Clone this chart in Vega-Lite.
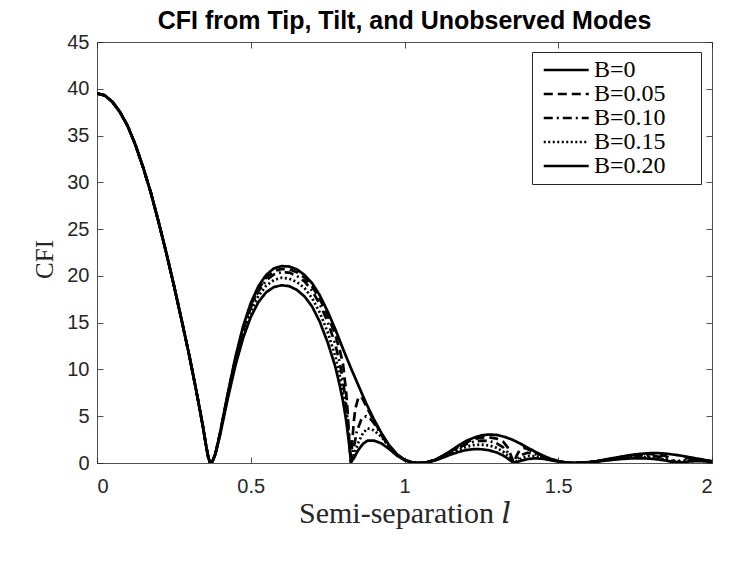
{
  "$schema": "https://vega.github.io/schema/vega-lite/v6.json",
  "width": 615,
  "height": 421,
  "autosize": {"type": "none"},
  "padding": {"left": 97, "top": 42, "right": 35, "bottom": 98},
  "background": "white",
  "title": {"text": "CFI from Tip, Tilt, and Unobserved Modes", "font": "Liberation Sans", "fontSize": 25, "fontWeight": "bold", "color": "#000000", "anchor": "middle", "offset": -2},
  "datasets": {
    "cfi": [
      {"l":0,"s":"B=0","c":39.5},{"l":0.025,"s":"B=0","c":39.3},{"l":0.05,"s":"B=0","c":38.6},{"l":0.075,"s":"B=0","c":37.5},{"l":0.1,"s":"B=0","c":36.0},{"l":0.125,"s":"B=0","c":34.0},{"l":0.15,"s":"B=0","c":31.6},{"l":0.175,"s":"B=0","c":28.9},{"l":0.2,"s":"B=0","c":25.8},{"l":0.225,"s":"B=0","c":22.5},{"l":0.25,"s":"B=0","c":19.0},{"l":0.275,"s":"B=0","c":15.3},{"l":0.3,"s":"B=0","c":11.5},{"l":0.32,"s":"B=0","c":8.2},{"l":0.335,"s":"B=0","c":5.6},{"l":0.345,"s":"B=0","c":3.8},{"l":0.355,"s":"B=0","c":1.8},{"l":0.362,"s":"B=0","c":0.6},{"l":0.368,"s":"B=0","c":0.0},
      {"l":0.375,"s":"B=0","c":0.15},{"l":0.385,"s":"B=0","c":1.0},{"l":0.4,"s":"B=0","c":3.2},{"l":0.425,"s":"B=0","c":7.4},{"l":0.45,"s":"B=0","c":11.3},{"l":0.475,"s":"B=0","c":14.6},{"l":0.5,"s":"B=0","c":17.1},{"l":0.525,"s":"B=0","c":18.9},{"l":0.55,"s":"B=0","c":20.1},{"l":0.575,"s":"B=0","c":20.8},{"l":0.6,"s":"B=0","c":21.05},{"l":0.625,"s":"B=0","c":21.0},{"l":0.65,"s":"B=0","c":20.7},{"l":0.675,"s":"B=0","c":20.1},{"l":0.7,"s":"B=0","c":19.2},{"l":0.725,"s":"B=0","c":17.9},{"l":0.75,"s":"B=0","c":16.2},{"l":0.775,"s":"B=0","c":14.3},{"l":0.8,"s":"B=0","c":12.2},{"l":0.825,"s":"B=0","c":10.2},{"l":0.85,"s":"B=0","c":8.3},{"l":0.875,"s":"B=0","c":6.4},{"l":0.9,"s":"B=0","c":4.7},{"l":0.925,"s":"B=0","c":3.2},{"l":0.95,"s":"B=0","c":1.9},{"l":0.975,"s":"B=0","c":0.95},{"l":1.0,"s":"B=0","c":0.35},{"l":1.025,"s":"B=0","c":0.07},{"l":1.045,"s":"B=0","c":0.0},
      {"l":1.075,"s":"B=0","c":0.1},{"l":1.1,"s":"B=0","c":0.35},{"l":1.125,"s":"B=0","c":0.8},{"l":1.15,"s":"B=0","c":1.3},{"l":1.175,"s":"B=0","c":1.85},{"l":1.2,"s":"B=0","c":2.35},{"l":1.225,"s":"B=0","c":2.7},{"l":1.25,"s":"B=0","c":2.95},{"l":1.275,"s":"B=0","c":3.05},{"l":1.3,"s":"B=0","c":3.0},{"l":1.325,"s":"B=0","c":2.8},{"l":1.35,"s":"B=0","c":2.5},{"l":1.375,"s":"B=0","c":2.1},{"l":1.4,"s":"B=0","c":1.65},{"l":1.425,"s":"B=0","c":1.2},{"l":1.45,"s":"B=0","c":0.8},{"l":1.475,"s":"B=0","c":0.45},{"l":1.5,"s":"B=0","c":0.2},{"l":1.525,"s":"B=0","c":0.05},{"l":1.55,"s":"B=0","c":0.0},
      {"l":1.575,"s":"B=0","c":0.03},{"l":1.6,"s":"B=0","c":0.1},{"l":1.625,"s":"B=0","c":0.2},{"l":1.65,"s":"B=0","c":0.35},{"l":1.675,"s":"B=0","c":0.5},{"l":1.7,"s":"B=0","c":0.65},{"l":1.725,"s":"B=0","c":0.8},{"l":1.75,"s":"B=0","c":0.92},{"l":1.775,"s":"B=0","c":1.0},{"l":1.8,"s":"B=0","c":1.05},{"l":1.825,"s":"B=0","c":1.05},{"l":1.85,"s":"B=0","c":1.0},{"l":1.875,"s":"B=0","c":0.9},{"l":1.9,"s":"B=0","c":0.78},{"l":1.925,"s":"B=0","c":0.63},{"l":1.95,"s":"B=0","c":0.48},{"l":1.975,"s":"B=0","c":0.33},{"l":2.0,"s":"B=0","c":0.2},

      {"l":0,"s":"B=0.05","c":39.5},{"l":0.025,"s":"B=0.05","c":39.3},{"l":0.05,"s":"B=0.05","c":38.6},{"l":0.075,"s":"B=0.05","c":37.5},{"l":0.1,"s":"B=0.05","c":36.0},{"l":0.125,"s":"B=0.05","c":34.0},{"l":0.15,"s":"B=0.05","c":31.6},{"l":0.175,"s":"B=0.05","c":28.9},{"l":0.2,"s":"B=0.05","c":25.8},{"l":0.225,"s":"B=0.05","c":22.5},{"l":0.25,"s":"B=0.05","c":19.0},{"l":0.275,"s":"B=0.05","c":15.3},{"l":0.3,"s":"B=0.05","c":11.5},{"l":0.32,"s":"B=0.05","c":8.2},{"l":0.335,"s":"B=0.05","c":5.6},{"l":0.345,"s":"B=0.05","c":3.8},{"l":0.355,"s":"B=0.05","c":1.8},{"l":0.362,"s":"B=0.05","c":0.6},{"l":0.368,"s":"B=0.05","c":0.0},
      {"l":0.375,"s":"B=0.05","c":0.15},{"l":0.385,"s":"B=0.05","c":0.99},{"l":0.4,"s":"B=0.05","c":3.15},{"l":0.425,"s":"B=0.05","c":7.3},{"l":0.45,"s":"B=0.05","c":11.15},{"l":0.475,"s":"B=0.05","c":14.4},{"l":0.5,"s":"B=0.05","c":16.85},{"l":0.525,"s":"B=0.05","c":18.6},{"l":0.55,"s":"B=0.05","c":19.8},{"l":0.575,"s":"B=0.05","c":20.5},{"l":0.6,"s":"B=0.05","c":20.75},{"l":0.625,"s":"B=0.05","c":20.7},{"l":0.65,"s":"B=0.05","c":20.4},{"l":0.675,"s":"B=0.05","c":19.8},{"l":0.7,"s":"B=0.05","c":18.85},{"l":0.725,"s":"B=0.05","c":17.5},{"l":0.75,"s":"B=0.05","c":15.8},{"l":0.775,"s":"B=0.05","c":13.7},{"l":0.79,"s":"B=0.05","c":12.0},{"l":0.8,"s":"B=0.05","c":10.6},{"l":0.81,"s":"B=0.05","c":7.7},{"l":0.815,"s":"B=0.05","c":5.5},{"l":0.82,"s":"B=0.05","c":2.5},{"l":0.826,"s":"B=0.05","c":0.1},{"l":0.83,"s":"B=0.05","c":2.2},{"l":0.835,"s":"B=0.05","c":4.4},{"l":0.84,"s":"B=0.05","c":5.8},{"l":0.85,"s":"B=0.05","c":7.0},{"l":0.86,"s":"B=0.05","c":7.1},{"l":0.875,"s":"B=0.05","c":6.1},{"l":0.9,"s":"B=0.05","c":4.55},{"l":0.925,"s":"B=0.05","c":3.1},{"l":0.95,"s":"B=0.05","c":1.8},{"l":0.975,"s":"B=0.05","c":0.9},{"l":1.0,"s":"B=0.05","c":0.33},{"l":1.025,"s":"B=0.05","c":0.06},{"l":1.045,"s":"B=0.05","c":0.0},
      {"l":1.075,"s":"B=0.05","c":0.1},{"l":1.1,"s":"B=0.05","c":0.33},{"l":1.125,"s":"B=0.05","c":0.75},{"l":1.15,"s":"B=0.05","c":1.22},{"l":1.175,"s":"B=0.05","c":1.73},{"l":1.2,"s":"B=0.05","c":2.2},{"l":1.225,"s":"B=0.05","c":2.52},{"l":1.25,"s":"B=0.05","c":2.72},{"l":1.275,"s":"B=0.05","c":2.75},{"l":1.3,"s":"B=0.05","c":2.6},{"l":1.32,"s":"B=0.05","c":2.3},{"l":1.335,"s":"B=0.05","c":1.7},{"l":1.345,"s":"B=0.05","c":0.9},{"l":1.355,"s":"B=0.05","c":0.05},{"l":1.365,"s":"B=0.05","c":0.8},{"l":1.375,"s":"B=0.05","c":1.4},{"l":1.39,"s":"B=0.05","c":1.6},{"l":1.4,"s":"B=0.05","c":1.5},{"l":1.425,"s":"B=0.05","c":1.1},{"l":1.45,"s":"B=0.05","c":0.74},{"l":1.475,"s":"B=0.05","c":0.42},{"l":1.5,"s":"B=0.05","c":0.19},{"l":1.525,"s":"B=0.05","c":0.05},{"l":1.55,"s":"B=0.05","c":0.0},
      {"l":1.575,"s":"B=0.05","c":0.03},{"l":1.6,"s":"B=0.05","c":0.09},{"l":1.625,"s":"B=0.05","c":0.19},{"l":1.65,"s":"B=0.05","c":0.33},{"l":1.675,"s":"B=0.05","c":0.47},{"l":1.7,"s":"B=0.05","c":0.61},{"l":1.725,"s":"B=0.05","c":0.75},{"l":1.75,"s":"B=0.05","c":0.86},{"l":1.775,"s":"B=0.05","c":0.93},{"l":1.8,"s":"B=0.05","c":0.95},{"l":1.825,"s":"B=0.05","c":0.9},{"l":1.85,"s":"B=0.05","c":0.72},{"l":1.87,"s":"B=0.05","c":0.4},{"l":1.885,"s":"B=0.05","c":0.05},{"l":1.9,"s":"B=0.05","c":0.4},{"l":1.925,"s":"B=0.05","c":0.55},{"l":1.95,"s":"B=0.05","c":0.45},{"l":1.975,"s":"B=0.05","c":0.31},{"l":2.0,"s":"B=0.05","c":0.19},

      {"l":0,"s":"B=0.10","c":39.5},{"l":0.025,"s":"B=0.10","c":39.3},{"l":0.05,"s":"B=0.10","c":38.6},{"l":0.075,"s":"B=0.10","c":37.5},{"l":0.1,"s":"B=0.10","c":36.0},{"l":0.125,"s":"B=0.10","c":34.0},{"l":0.15,"s":"B=0.10","c":31.6},{"l":0.175,"s":"B=0.10","c":28.9},{"l":0.2,"s":"B=0.10","c":25.8},{"l":0.225,"s":"B=0.10","c":22.5},{"l":0.25,"s":"B=0.10","c":19.0},{"l":0.275,"s":"B=0.10","c":15.3},{"l":0.3,"s":"B=0.10","c":11.5},{"l":0.32,"s":"B=0.10","c":8.2},{"l":0.335,"s":"B=0.10","c":5.6},{"l":0.345,"s":"B=0.10","c":3.8},{"l":0.355,"s":"B=0.10","c":1.8},{"l":0.362,"s":"B=0.10","c":0.6},{"l":0.368,"s":"B=0.10","c":0.0},
      {"l":0.375,"s":"B=0.10","c":0.15},{"l":0.385,"s":"B=0.10","c":0.98},{"l":0.4,"s":"B=0.10","c":3.1},{"l":0.425,"s":"B=0.10","c":7.2},{"l":0.45,"s":"B=0.10","c":11.0},{"l":0.475,"s":"B=0.10","c":14.2},{"l":0.5,"s":"B=0.10","c":16.6},{"l":0.525,"s":"B=0.10","c":18.35},{"l":0.55,"s":"B=0.10","c":19.5},{"l":0.575,"s":"B=0.10","c":20.15},{"l":0.6,"s":"B=0.10","c":20.4},{"l":0.625,"s":"B=0.10","c":20.35},{"l":0.65,"s":"B=0.10","c":20.0},{"l":0.675,"s":"B=0.10","c":19.4},{"l":0.7,"s":"B=0.10","c":18.4},{"l":0.725,"s":"B=0.10","c":16.95},{"l":0.75,"s":"B=0.10","c":15.1},{"l":0.775,"s":"B=0.10","c":12.7},{"l":0.79,"s":"B=0.10","c":10.6},{"l":0.8,"s":"B=0.10","c":8.8},{"l":0.81,"s":"B=0.10","c":6.3},{"l":0.82,"s":"B=0.10","c":2.8},{"l":0.826,"s":"B=0.10","c":0.1},{"l":0.835,"s":"B=0.10","c":1.6},{"l":0.845,"s":"B=0.10","c":3.4},{"l":0.86,"s":"B=0.10","c":4.7},{"l":0.875,"s":"B=0.10","c":5.0},{"l":0.89,"s":"B=0.10","c":4.7},{"l":0.9,"s":"B=0.10","c":4.3},{"l":0.925,"s":"B=0.10","c":3.0},{"l":0.95,"s":"B=0.10","c":1.75},{"l":0.975,"s":"B=0.10","c":0.88},{"l":1.0,"s":"B=0.10","c":0.32},{"l":1.025,"s":"B=0.10","c":0.06},{"l":1.045,"s":"B=0.10","c":0.0},
      {"l":1.075,"s":"B=0.10","c":0.1},{"l":1.1,"s":"B=0.10","c":0.32},{"l":1.125,"s":"B=0.10","c":0.72},{"l":1.15,"s":"B=0.10","c":1.15},{"l":1.175,"s":"B=0.10","c":1.6},{"l":1.2,"s":"B=0.10","c":2.0},{"l":1.225,"s":"B=0.10","c":2.28},{"l":1.25,"s":"B=0.10","c":2.4},{"l":1.275,"s":"B=0.10","c":2.35},{"l":1.3,"s":"B=0.10","c":2.1},{"l":1.32,"s":"B=0.10","c":1.7},{"l":1.335,"s":"B=0.10","c":1.15},{"l":1.345,"s":"B=0.10","c":0.6},{"l":1.355,"s":"B=0.10","c":0.05},{"l":1.365,"s":"B=0.10","c":0.35},{"l":1.38,"s":"B=0.10","c":0.85},{"l":1.4,"s":"B=0.10","c":1.1},{"l":1.425,"s":"B=0.10","c":0.95},{"l":1.45,"s":"B=0.10","c":0.68},{"l":1.475,"s":"B=0.10","c":0.4},{"l":1.5,"s":"B=0.10","c":0.18},{"l":1.525,"s":"B=0.10","c":0.05},{"l":1.55,"s":"B=0.10","c":0.0},
      {"l":1.575,"s":"B=0.10","c":0.03},{"l":1.6,"s":"B=0.10","c":0.09},{"l":1.625,"s":"B=0.10","c":0.18},{"l":1.65,"s":"B=0.10","c":0.31},{"l":1.675,"s":"B=0.10","c":0.44},{"l":1.7,"s":"B=0.10","c":0.57},{"l":1.725,"s":"B=0.10","c":0.68},{"l":1.75,"s":"B=0.10","c":0.76},{"l":1.775,"s":"B=0.10","c":0.8},{"l":1.8,"s":"B=0.10","c":0.78},{"l":1.825,"s":"B=0.10","c":0.68},{"l":1.85,"s":"B=0.10","c":0.5},{"l":1.87,"s":"B=0.10","c":0.25},{"l":1.885,"s":"B=0.10","c":0.03},{"l":1.9,"s":"B=0.10","c":0.18},{"l":1.925,"s":"B=0.10","c":0.38},{"l":1.95,"s":"B=0.10","c":0.38},{"l":1.975,"s":"B=0.10","c":0.28},{"l":2.0,"s":"B=0.10","c":0.18},

      {"l":0,"s":"B=0.15","c":39.5},{"l":0.025,"s":"B=0.15","c":39.3},{"l":0.05,"s":"B=0.15","c":38.6},{"l":0.075,"s":"B=0.15","c":37.5},{"l":0.1,"s":"B=0.15","c":36.0},{"l":0.125,"s":"B=0.15","c":34.0},{"l":0.15,"s":"B=0.15","c":31.6},{"l":0.175,"s":"B=0.15","c":28.9},{"l":0.2,"s":"B=0.15","c":25.8},{"l":0.225,"s":"B=0.15","c":22.5},{"l":0.25,"s":"B=0.15","c":19.0},{"l":0.275,"s":"B=0.15","c":15.3},{"l":0.3,"s":"B=0.15","c":11.5},{"l":0.32,"s":"B=0.15","c":8.2},{"l":0.335,"s":"B=0.15","c":5.6},{"l":0.345,"s":"B=0.15","c":3.8},{"l":0.355,"s":"B=0.15","c":1.8},{"l":0.362,"s":"B=0.15","c":0.6},{"l":0.368,"s":"B=0.15","c":0.0},
      {"l":0.375,"s":"B=0.15","c":0.14},{"l":0.385,"s":"B=0.15","c":0.96},{"l":0.4,"s":"B=0.15","c":3.05},{"l":0.425,"s":"B=0.15","c":7.05},{"l":0.45,"s":"B=0.15","c":10.75},{"l":0.475,"s":"B=0.15","c":13.85},{"l":0.5,"s":"B=0.15","c":16.2},{"l":0.525,"s":"B=0.15","c":17.85},{"l":0.55,"s":"B=0.15","c":18.95},{"l":0.575,"s":"B=0.15","c":19.55},{"l":0.6,"s":"B=0.15","c":19.8},{"l":0.625,"s":"B=0.15","c":19.7},{"l":0.65,"s":"B=0.15","c":19.35},{"l":0.675,"s":"B=0.15","c":18.7},{"l":0.7,"s":"B=0.15","c":17.6},{"l":0.725,"s":"B=0.15","c":16.05},{"l":0.75,"s":"B=0.15","c":14.0},{"l":0.775,"s":"B=0.15","c":11.4},{"l":0.79,"s":"B=0.15","c":9.3},{"l":0.8,"s":"B=0.15","c":7.6},{"l":0.81,"s":"B=0.15","c":5.4},{"l":0.82,"s":"B=0.15","c":2.4},{"l":0.826,"s":"B=0.15","c":0.1},{"l":0.835,"s":"B=0.15","c":0.8},{"l":0.85,"s":"B=0.15","c":2.2},{"l":0.865,"s":"B=0.15","c":3.2},{"l":0.88,"s":"B=0.15","c":3.7},{"l":0.9,"s":"B=0.15","c":3.5},{"l":0.925,"s":"B=0.15","c":2.8},{"l":0.95,"s":"B=0.15","c":1.7},{"l":0.975,"s":"B=0.15","c":0.85},{"l":1.0,"s":"B=0.15","c":0.31},{"l":1.025,"s":"B=0.15","c":0.06},{"l":1.045,"s":"B=0.15","c":0.0},
      {"l":1.075,"s":"B=0.15","c":0.09},{"l":1.1,"s":"B=0.15","c":0.3},{"l":1.125,"s":"B=0.15","c":0.67},{"l":1.15,"s":"B=0.15","c":1.05},{"l":1.175,"s":"B=0.15","c":1.42},{"l":1.2,"s":"B=0.15","c":1.72},{"l":1.225,"s":"B=0.15","c":1.92},{"l":1.25,"s":"B=0.15","c":1.97},{"l":1.275,"s":"B=0.15","c":1.88},{"l":1.3,"s":"B=0.15","c":1.62},{"l":1.32,"s":"B=0.15","c":1.25},{"l":1.335,"s":"B=0.15","c":0.8},{"l":1.345,"s":"B=0.15","c":0.4},{"l":1.355,"s":"B=0.15","c":0.03},{"l":1.365,"s":"B=0.15","c":0.18},{"l":1.38,"s":"B=0.15","c":0.5},{"l":1.4,"s":"B=0.15","c":0.75},{"l":1.425,"s":"B=0.15","c":0.75},{"l":1.45,"s":"B=0.15","c":0.58},{"l":1.475,"s":"B=0.15","c":0.36},{"l":1.5,"s":"B=0.15","c":0.17},{"l":1.525,"s":"B=0.15","c":0.05},{"l":1.55,"s":"B=0.15","c":0.0},
      {"l":1.575,"s":"B=0.15","c":0.03},{"l":1.6,"s":"B=0.15","c":0.08},{"l":1.625,"s":"B=0.15","c":0.17},{"l":1.65,"s":"B=0.15","c":0.28},{"l":1.675,"s":"B=0.15","c":0.4},{"l":1.7,"s":"B=0.15","c":0.5},{"l":1.725,"s":"B=0.15","c":0.59},{"l":1.75,"s":"B=0.15","c":0.64},{"l":1.775,"s":"B=0.15","c":0.65},{"l":1.8,"s":"B=0.15","c":0.61},{"l":1.825,"s":"B=0.15","c":0.51},{"l":1.85,"s":"B=0.15","c":0.36},{"l":1.87,"s":"B=0.15","c":0.17},{"l":1.885,"s":"B=0.15","c":0.02},{"l":1.9,"s":"B=0.15","c":0.1},{"l":1.925,"s":"B=0.15","c":0.25},{"l":1.95,"s":"B=0.15","c":0.3},{"l":1.975,"s":"B=0.15","c":0.24},{"l":2.0,"s":"B=0.15","c":0.16},

      {"l":0,"s":"B=0.20","c":39.5},{"l":0.025,"s":"B=0.20","c":39.3},{"l":0.05,"s":"B=0.20","c":38.6},{"l":0.075,"s":"B=0.20","c":37.5},{"l":0.1,"s":"B=0.20","c":36.0},{"l":0.125,"s":"B=0.20","c":34.0},{"l":0.15,"s":"B=0.20","c":31.6},{"l":0.175,"s":"B=0.20","c":28.9},{"l":0.2,"s":"B=0.20","c":25.8},{"l":0.225,"s":"B=0.20","c":22.5},{"l":0.25,"s":"B=0.20","c":19.0},{"l":0.275,"s":"B=0.20","c":15.3},{"l":0.3,"s":"B=0.20","c":11.5},{"l":0.32,"s":"B=0.20","c":8.2},{"l":0.335,"s":"B=0.20","c":5.6},{"l":0.345,"s":"B=0.20","c":3.8},{"l":0.355,"s":"B=0.20","c":1.8},{"l":0.362,"s":"B=0.20","c":0.6},{"l":0.368,"s":"B=0.20","c":0.0},
      {"l":0.375,"s":"B=0.20","c":0.14},{"l":0.385,"s":"B=0.20","c":0.93},{"l":0.4,"s":"B=0.20","c":2.95},{"l":0.425,"s":"B=0.20","c":6.85},{"l":0.45,"s":"B=0.20","c":10.4},{"l":0.475,"s":"B=0.20","c":13.35},{"l":0.5,"s":"B=0.20","c":15.6},{"l":0.525,"s":"B=0.20","c":17.2},{"l":0.55,"s":"B=0.20","c":18.25},{"l":0.575,"s":"B=0.20","c":18.8},{"l":0.6,"s":"B=0.20","c":19.0},{"l":0.625,"s":"B=0.20","c":18.9},{"l":0.65,"s":"B=0.20","c":18.5},{"l":0.675,"s":"B=0.20","c":17.8},{"l":0.7,"s":"B=0.20","c":16.7},{"l":0.725,"s":"B=0.20","c":15.05},{"l":0.75,"s":"B=0.20","c":12.9},{"l":0.775,"s":"B=0.20","c":10.3},{"l":0.79,"s":"B=0.20","c":8.2},{"l":0.8,"s":"B=0.20","c":6.6},{"l":0.81,"s":"B=0.20","c":4.6},{"l":0.82,"s":"B=0.20","c":2.0},{"l":0.826,"s":"B=0.20","c":0.1},{"l":0.835,"s":"B=0.20","c":0.5},{"l":0.85,"s":"B=0.20","c":1.4},{"l":0.865,"s":"B=0.20","c":2.05},{"l":0.88,"s":"B=0.20","c":2.4},{"l":0.9,"s":"B=0.20","c":2.4},{"l":0.925,"s":"B=0.20","c":2.1},{"l":0.95,"s":"B=0.20","c":1.5},{"l":0.975,"s":"B=0.20","c":0.8},{"l":1.0,"s":"B=0.20","c":0.3},{"l":1.025,"s":"B=0.20","c":0.05},{"l":1.045,"s":"B=0.20","c":0.0},
      {"l":1.075,"s":"B=0.20","c":0.08},{"l":1.1,"s":"B=0.20","c":0.27},{"l":1.125,"s":"B=0.20","c":0.58},{"l":1.15,"s":"B=0.20","c":0.9},{"l":1.175,"s":"B=0.20","c":1.17},{"l":1.2,"s":"B=0.20","c":1.38},{"l":1.225,"s":"B=0.20","c":1.48},{"l":1.25,"s":"B=0.20","c":1.47},{"l":1.275,"s":"B=0.20","c":1.36},{"l":1.3,"s":"B=0.20","c":1.12},{"l":1.32,"s":"B=0.20","c":0.82},{"l":1.335,"s":"B=0.20","c":0.5},{"l":1.345,"s":"B=0.20","c":0.25},{"l":1.355,"s":"B=0.20","c":0.02},{"l":1.365,"s":"B=0.20","c":0.08},{"l":1.38,"s":"B=0.20","c":0.25},{"l":1.4,"s":"B=0.20","c":0.42},{"l":1.425,"s":"B=0.20","c":0.5},{"l":1.45,"s":"B=0.20","c":0.45},{"l":1.475,"s":"B=0.20","c":0.3},{"l":1.5,"s":"B=0.20","c":0.15},{"l":1.525,"s":"B=0.20","c":0.04},{"l":1.55,"s":"B=0.20","c":0.0},
      {"l":1.575,"s":"B=0.20","c":0.02},{"l":1.6,"s":"B=0.20","c":0.07},{"l":1.625,"s":"B=0.20","c":0.15},{"l":1.65,"s":"B=0.20","c":0.24},{"l":1.675,"s":"B=0.20","c":0.33},{"l":1.7,"s":"B=0.20","c":0.41},{"l":1.725,"s":"B=0.20","c":0.47},{"l":1.75,"s":"B=0.20","c":0.5},{"l":1.775,"s":"B=0.20","c":0.5},{"l":1.8,"s":"B=0.20","c":0.46},{"l":1.825,"s":"B=0.20","c":0.38},{"l":1.85,"s":"B=0.20","c":0.26},{"l":1.87,"s":"B=0.20","c":0.12},{"l":1.885,"s":"B=0.20","c":0.01},{"l":1.9,"s":"B=0.20","c":0.06},{"l":1.925,"s":"B=0.20","c":0.16},{"l":1.95,"s":"B=0.20","c":0.2},{"l":1.975,"s":"B=0.20","c":0.18},{"l":2.0,"s":"B=0.20","c":0.13}
    ]
  },
  "data": {"name": "cfi"},
  "layer": [
    {
      "mark": {"type": "point", "opacity": 0},
      "encoding": {
        "x": {"field": "l", "type": "quantitative", "scale": {"domain": [0, 2], "nice": false, "zero": false},
              "axis": {"orient": "top", "values": [0, 0.5, 1, 1.5, 2], "labels": false, "title": null}},
        "y": {"field": "c", "type": "quantitative", "scale": {"domain": [0, 45], "nice": false},
              "axis": {"orient": "right", "values": [0,5,10,15,20,25,30,35,40,45], "labels": false, "title": null}}
      }
    },
    {
      "mark": {"type": "line", "color": "#000000", "strokeCap": "butt", "strokeJoin": "round", "clip": true},
      "encoding": {
        "x": {"field": "l", "type": "quantitative",
              "axis": {"orient": "bottom", "values": [0, 0.5, 1, 1.5, 2], "labelExpr": "datum.value", "title": "Semi-separation 𝑙", "labelPadding": 19, "titlePadding": 2, "titleFontSize": 30}},
        "y": {"field": "c", "type": "quantitative",
              "axis": {"orient": "left", "values": [0,5,10,15,20,25,30,35,40,45], "title": "CFI", "labelPadding": 14, "titlePadding": 9, "titleY": 217}},
        "order": {"field": "l", "type": "quantitative"},
        "strokeDash": {"field": "s", "type": "nominal",
                       "scale": {"domain": ["B=0","B=0.05","B=0.10","B=0.15","B=0.20"], "range": [[1,0],[9,5],[9,4,2,4],[2,2.5],[1,0]]},
                       "legend": {"title": null, "labelExpr": "datum.label + '\u2003\u2009\u200b'"}},
        "strokeWidth": {"field": "s", "type": "nominal",
                        "scale": {"domain": ["B=0","B=0.05","B=0.10","B=0.15","B=0.20"], "range": [2.7,2.7,2.7,2.7,1.3]},
                        "legend": {"title": null, "labelExpr": "datum.label + '\u2003\u2009\u200b'"}}
      }
    }
  ],
  "resolve": {"axis": {"x": "independent", "y": "independent"}},
  "config": {
    "view": {"stroke": null},
    "axis": {"domainColor": "#262626", "domainWidth": 0.8, "tickColor": "#262626", "tickWidth": 0.8, "tickSize": -6,
             "labelFont": "Liberation Sans", "labelFontSize": 20, "labelColor": "#262626", "grid": false,
             "titleFont": "Liberation Serif, DejaVu Serif", "titleFontSize": 25, "titleFontWeight": "normal", "titleColor": "#262626"},
    "legend": {"orient": "none", "legendX": 435, "legendY": 10, "symbolType": "M-1,0H6.2", "symbolSize": 156,
               "symbolStrokeColor": "#000000", "labelFont": "Liberation Serif", "labelFontSize": 24, "labelColor": "#000000",
               "strokeColor": "#262626", "fillColor": "white", "padding": 6, "rowPadding": 0, "labelOffset": 32, "cornerRadius": 0}
  }
}
